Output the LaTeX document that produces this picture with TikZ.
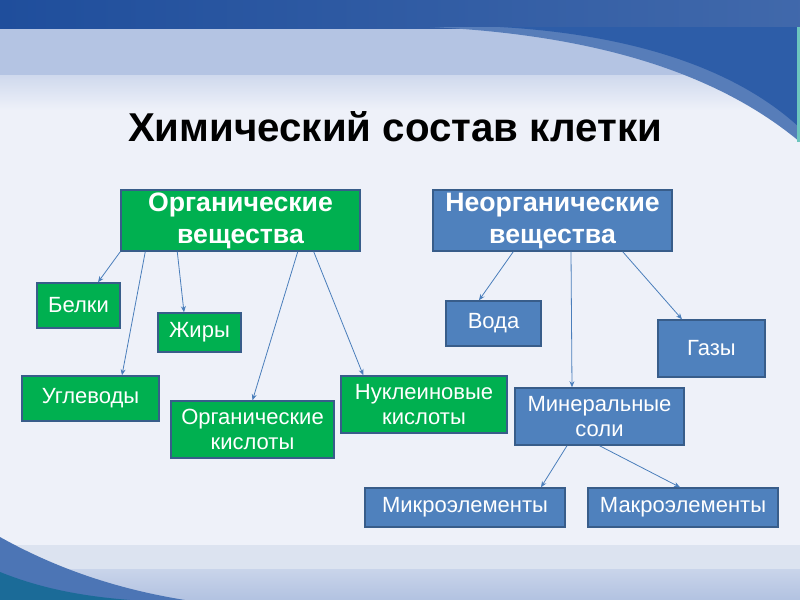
\documentclass[tikz,border=0pt]{standalone}
\usepackage{fontspec}
\setmainfont{Liberation Sans}
\usetikzlibrary{positioning,arrows.meta,calc}
\newcommand{\pxu}{0.75pt}
\definecolor{bgpale}{HTML}{EEF1F9}
\definecolor{bgdark}{HTML}{1F4E9C}
\definecolor{bgmid}{HTML}{2D5DA8}
\definecolor{bglight}{HTML}{A6B9DD}
\definecolor{bgband}{HTML}{DCE3F0}
\definecolor{bgfoot}{HTML}{B2C2E1}
\definecolor{bgteal}{HTML}{6CC5BE}
\definecolor{orggreen}{HTML}{00B050}
\definecolor{inorgblue}{HTML}{4F81BD}
\definecolor{boxedge}{HTML}{385D8A}
\definecolor{linkblue}{HTML}{4A7EBB}
\tikzset{
  link/.style={-{Stealth[length=1.6mm,width=1.3mm]}, draw=linkblue, line width=0.6pt},
  orgnode/.style={draw=boxedge, line width=1.1pt, fill=orggreen, text=white, align=center, inner sep=1pt, font=\fontsize{16.5}{19}\selectfont},
  inorgnode/.style={orgnode, fill=inorgblue},
  headnode/.style={font=\fontsize{20}{24}\bfseries\selectfont, minimum width=239*\pxu, minimum height=61*\pxu},
  titlenode/.style={font=\fontsize{30.2}{34}\bfseries\selectfont, text=black}
}
\begin{document}
\begin{tikzpicture}[x=\pxu, y=-\pxu]
  % background
  \useasboundingbox (0,0) rectangle (800,600);
  \fill[bgpale] (0,0) rectangle (800,600);
  \shade[top color=bglight, bottom color=bgpale] (0,28) rectangle (800,110);
  \fill[bglight!80!bgpale] (0,28) rectangle (800,75);
  \shade[left color=bgdark, right color=bgdark!85!white] (0,0) rectangle (800,28);
  \fill[bgmid!80!white] (430,27) .. controls (600,35) and (720,75) .. (800,142) -- (800,27) -- cycle;
  \fill[bgmid] (500,27) .. controls (640,35) and (740,72) .. (800,128) -- (800,27) -- cycle;
  \fill[bgteal] (797,27) rectangle (800,142);
  \fill[bgband] (0,545) rectangle (800,569);
  \shade[top color=bgfoot!70!white, bottom color=bgfoot] (0,569) rectangle (800,600);
  \fill[bgmid!85!white] (0,537) .. controls (50,565) and (110,588) .. (185,600) -- (0,600) -- cycle;
  \fill[bgmid!60!teal] (0,572) .. controls (40,588) and (80,596) .. (130,600) -- (0,600) -- cycle;

  \node[titlenode] (title) at (395,127) {Химический состав клетки};

  \node[orgnode, headnode] (org) at (240.5,220.5) {Органические\\вещества};
  \node[inorgnode, headnode] (inorg) at (552.5,220.5) {Неорганические\\вещества};

  \node[orgnode, minimum width=83*\pxu, minimum height=45*\pxu] (belki) at (78.5,305.5) {Белки};
  \node[orgnode, minimum width=83*\pxu, minimum height=39*\pxu] (zhiry) at (199.5,332.5) {Жиры};
  \node[orgnode, minimum width=137*\pxu, minimum height=45*\pxu] (uglevody) at (90.5,398.5) {Углеводы};
  \node[orgnode, minimum width=163*\pxu, minimum height=57*\pxu] (orgkisl) at (252.5,429.5) {Органические\\кислоты};
  \node[orgnode, minimum width=166*\pxu, minimum height=57*\pxu] (nukl) at (424,404.5) {Нуклеиновые\\кислоты};

  \node[inorgnode, minimum width=95*\pxu, minimum height=45*\pxu] (voda) at (493.5,323.5) {Вода};
  \node[inorgnode, minimum width=107*\pxu, minimum height=57*\pxu] (gazy) at (711.5,348.5) {Газы};
  \node[inorgnode, minimum width=169*\pxu, minimum height=57*\pxu] (minsoli) at (599.5,416.5) {Минеральные\\соли};
  \node[inorgnode, minimum width=200*\pxu, minimum height=39*\pxu] (mikro) at (465,507.5) {Микроэлементы};
  \node[inorgnode, minimum width=190*\pxu, minimum height=39*\pxu] (makro) at (683,507.5) {Макроэлементы};

  % arrows
  \draw[link] (org.south west) -- ([xshift=19.5*\pxu]belki.north);
  \draw[link] ([xshift=25*\pxu]org.south west) -- ([xshift=31.5*\pxu]uglevody.north);
  \draw[link] ([xshift=57*\pxu]org.south west) -- ([xshift=-15.5*\pxu]zhiry.north);
  \draw[link] ([xshift=-63*\pxu]org.south east) -- (orgkisl.north);
  \draw[link] ([xshift=-47*\pxu]org.south east) -- ([xshift=23*\pxu]nukl.north west);
  \draw[link] ([xshift=81*\pxu]inorg.south west) -- ([xshift=-14.5*\pxu]voda.north);
  \draw[link] ([xshift=18.5*\pxu]inorg.south) -- ([xshift=-27.5*\pxu]minsoli.north);
  \draw[link] ([xshift=-50*\pxu]inorg.south east) -- ([xshift=-29.5*\pxu]gazy.north);
  \draw[link] ([xshift=-32.5*\pxu]minsoli.south) -- ([xshift=76*\pxu]mikro.north);
  \draw[link] (minsoli.south) -- ([xshift=-3*\pxu]makro.north);
\end{tikzpicture}
\end{document}
